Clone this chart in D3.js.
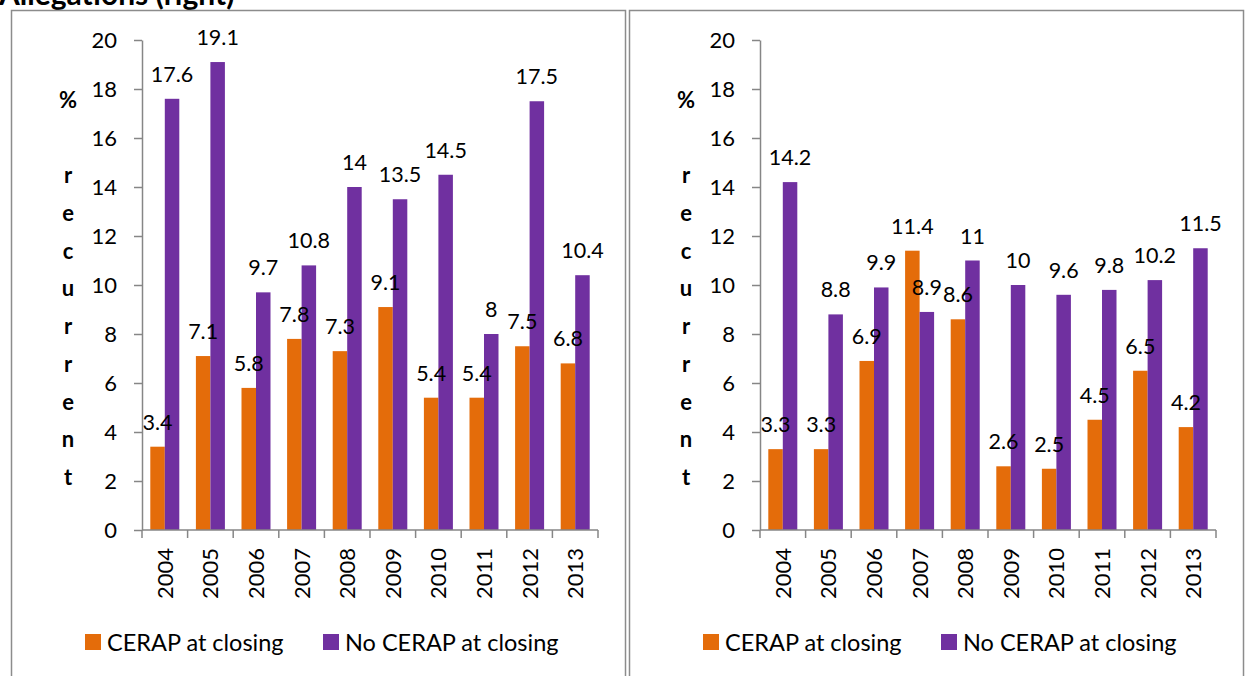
<!DOCTYPE html>
<meta charset="utf-8">
<style>
body { margin: 0; background: #fff; }
svg text { font-family: Lato, "Open Sans", sans-serif; fill: #000; }
.axis path, .axis line { stroke: #868686; stroke-width: 1.5px; }
.axis text { font-size: 22px; }
.lbl { font-size: 21.5px; text-anchor: middle; }
</style>
<body>
<script src="https://d3js.org/d3.v7.min.js"></script>
<script>

// data
var years = ["2004","2005","2006","2007","2008","2009","2010","2011","2012","2013"];
var seriesNames = ["CERAP at closing", "No CERAP at closing"];
var seriesColors = ["#E46C0A", "#7030A0"];
var leftCerap   = [3.4, 7.1, 5.8, 7.8, 7.3, 9.1, 5.4, 5.4, 7.5, 6.8];
var leftNoCerap = [17.6, 19.1, 9.7, 10.8, 14, 13.5, 14.5, 8, 17.5, 10.4];
var rightCerap   = [3.3, 3.3, 6.9, 11.4, 8.6, 2.6, 2.5, 4.5, 6.5, 4.2];
var rightNoCerap = [14.2, 8.8, 9.9, 8.9, 11, 10, 9.6, 9.8, 10.2, 11.5];
var yTicks = [0, 2, 4, 6, 8, 10, 12, 14, 16, 18, 20];
var yTitle = "% recurrent";
var title = "Allegations (right)";

var width = 1248, height = 676;

var svg = d3.select("body").append("svg")
    .attr("width", width)
    .attr("height", height);

// title, cut at the top like the original
svg.append("text")
    .attr("x", -1).attr("y", 5)
    .style("font-size", "30px").style("font-weight", "bold")
    .text(title);

function drawPanel(off, cerap, noCerap) {
  // frame
  svg.append("rect")
      .attr("x", 11.5 + off).attr("y", 10.5)
      .attr("width", 614).attr("height", 700)
      .attr("fill", "none").attr("stroke", "#8c8c8c").attr("stroke-width", 1.5);

  var g = svg.append("g").attr("transform", "translate(" + off + ",0)");

  var y = d3.scaleLinear().domain([0, 20]).range([530, 40]);
  var x0 = d3.scaleBand().domain(years).range([142, 598])
      .paddingInner(0.364).paddingOuter(0.182);
  var x1 = d3.scaleBand().domain(seriesNames).range([0, x0.bandwidth()]);

  var rows = years.map(function(d, i) {
    return {year: d, values: [
      {name: seriesNames[0], v: cerap[i], c: seriesColors[0]},
      {name: seriesNames[1], v: noCerap[i], c: seriesColors[1]}
    ]};
  });

  // bars
  var grp = g.selectAll(".yr").data(rows).enter().append("g")
      .attr("transform", function(d) { return "translate(" + x0(d.year) + ",0)"; });
  grp.selectAll("rect").data(function(d) { return d.values; }).enter().append("rect")
      .attr("x", function(d) { return x1(d.name); })
      .attr("y", function(d) { return y(d.v); })
      .attr("width", x1.bandwidth())
      .attr("height", function(d) { return y(0) - y(d.v); })
      .attr("fill", function(d) { return d.c; });

  // y axis
  g.append("g").attr("class", "axis")
      .attr("transform", "translate(142,0)")
      .call(d3.axisLeft(y).tickValues(yTicks).tickSize(8).tickSizeOuter(0).tickPadding(17));

  // x axis line + boundary ticks
  var gap = x0.step() - x0.bandwidth();
  var xa = g.append("g").attr("class", "axis")
      .attr("transform", "translate(0,530)")
      .call(d3.axisBottom(x0).tickSize(0).tickSizeOuter(0));
  xa.select(".domain").attr("d", "M142,0H598");
  xa.selectAll("text")
      .attr("y", 0).attr("x", -18).attr("dy", "0.36em")
      .attr("transform", "rotate(-90)")
      .style("text-anchor", "end");
  var bounds = years.map(function(d) { return x0(d) - gap / 2; });
  bounds.push(x0(years[years.length - 1]) + x0.bandwidth() + gap / 2);
  xa.selectAll(".bt").data(bounds).enter().append("line")
      .attr("x1", function(d) { return d; }).attr("x2", function(d) { return d; })
      .attr("y1", 0).attr("y2", 8);

  // value labels
  grp.selectAll(".lbl").data(function(d) { return d.values; }).enter().append("text")
      .attr("class", "lbl")
      .attr("x", function(d) { return x1(d.name) + x1.bandwidth() / 2; })
      .attr("y", function(d) { return y(d.v) - 17; })
      .text(function(d) { return d.v; });

  // stacked y title
  g.selectAll(".yt").data(yTitle.split("")).enter().append("text")
      .attr("x", 68).attr("y", function(d, i) { return 100 + i * 37.75; })
      .attr("dy", "0.35em")
      .style("text-anchor", "middle").style("font-size", "22px").style("font-weight", "bold")
      .text(function(d) { return d; });

  // legend
  var lx = [85, 323];
  seriesNames.forEach(function(s, i) {
    g.append("rect").attr("x", lx[i]).attr("y", 634).attr("width", 16).attr("height", 16)
        .attr("fill", seriesColors[i]);
    g.append("text").attr("x", lx[i] + 22).attr("y", 651)
        .style("font-size", "23.5px").text(s);
  });
}

drawPanel(0, leftCerap, leftNoCerap);
drawPanel(618, rightCerap, rightNoCerap);

</script>
</body>
